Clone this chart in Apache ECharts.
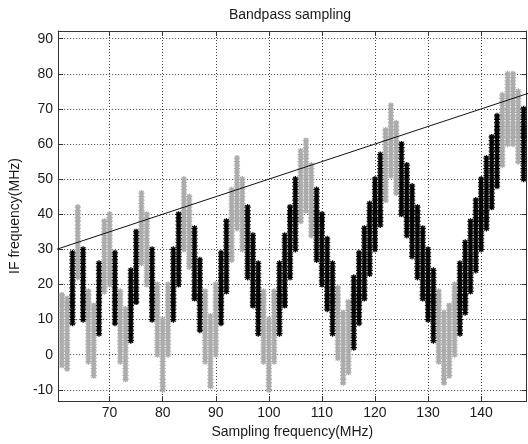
<!DOCTYPE html>
<html>
<head>
<meta charset="utf-8">
<script src="https://cdn.jsdelivr.net/npm/echarts@6/dist/echarts.min.js"></script>
<style>html,body{margin:0;padding:0;background:#fff}#c{width:528px;height:444px}</style>
</head>
<body>
<div id="c"></div>
<script>
// Valid IF bands (black): sampling frequency, lower and upper IF edge (MHz)
const validFs   = [63,65,68,71,74,75,78,82,83,86,87,91,92,96,97,98,102,103,104,105,109,110,111,112,116,117,118,119,120,121,125,126,127,128,129,130,131,136,137,138,139,140,141,142,143,148];
const validLow  = [9,10,6,9,4,15,10,10,20,16,7,9,18,22,14,6,6,14,22,30,27,20,13,6,2,9,16,23,30,37,40,34,28,22,16,10,4,6,12,18,24,30,36,42,48,50];
const validHigh = [29,30,26,29,24,35,30,30,40,36,27,29,38,42,34,26,26,34,42,50,47,40,33,26,22,29,36,43,50,57,60,54,48,42,36,30,24,26,32,38,44,50,56,62,68,70];

// Aliased / overlapping IF bands (gray)
const aliasFs   = [61,62,64,66,67,69,70,72,73,76,77,79,80,81,84,85,88,89,90,93,94,95,99,100,101,106,107,108,113,114,115,122,123,124,132,133,134,135,144,145,146,147];
const aliasLow  = [-3,-4,22,-2,-6,18,20,-2,-7,26,20,0,-10,0,30,25,-2,-9,0,27,36,30,-2,-10,-2,38,41,34,-1,-8,-5,44,51,46,-2,-8,-6,0,54,60,60,55];
const aliasHigh = [17,16,42,18,14,38,40,18,13,46,40,20,10,20,50,45,18,11,20,47,56,50,18,10,18,58,61,54,19,12,15,64,71,66,18,12,14,20,74,80,80,75];

// Nyquist line fs/2
const lineFs = [60, 149];
const lineIF = [30, 74.5];

// Axis ticks
const xTicks = [70, 80, 90, 100, 110, 120, 130, 140];
const yTicks = [-10, 0, 10, 20, 30, 40, 50, 60, 70, 80, 90];

const X_MIN = 60.3, X_MAX = 148.55, Y_MIN = -13.2, Y_MAX = 92.2;
const FONT = 'Liberation Sans, Arial, sans-serif';
const AXIS_COLOR = '#333';

function zip3(a, b, c) { return a.map((v, i) => [v, b[i], c[i]]); }

function columnRenderer(color) {
  return function (params, api) {
    const f = api.value(0), lo = api.value(1), hi = api.value(2);
    const r = 3.1, d2 = r * 0.72;
    let d = '';
    for (let v = lo; v <= hi; v += 1) {
      const p = api.coord([f, v]);
      const x = p[0], y = p[1];
      d += 'M' + (x - r) + ' ' + y + 'L' + (x + r) + ' ' + y +
           'M' + x + ' ' + (y - r) + 'L' + x + ' ' + (y + r) +
           'M' + (x - d2) + ' ' + (y - d2) + 'L' + (x + d2) + ' ' + (y + d2) +
           'M' + (x - d2) + ' ' + (y + d2) + 'L' + (x + d2) + ' ' + (y - d2);
    }
    return { type: 'path', shape: { pathData: d }, style: { stroke: color, fill: null, lineWidth: 1.3 } };
  };
}

const chart = echarts.init(document.getElementById('c'), null, { renderer: 'canvas' });

const tickStyle = { color: AXIS_COLOR, width: 1 };
const labelStyle = { color: '#1a1a1a', fontFamily: FONT, fontSize: 14 };

chart.setOption({
  animation: false,
  backgroundColor: '#fff',
  grid: { left: 57, top: 31, right: 1.5, bottom: 40.3, containLabel: false },
  graphic: [{
    type: 'text', x: 290, y: 15,
    style: { text: 'Bandpass sampling', fill: '#1a1a1a', font: '14px ' + FONT, textAlign: 'center', textVerticalAlign: 'middle' }
  }],
  xAxis: [{
    type: 'value', min: X_MIN, max: X_MAX, position: 'bottom',
    axisLine: { show: true, onZero: false, lineStyle: tickStyle },
    axisTick: { show: true, inside: true, length: 5, customValues: xTicks, lineStyle: tickStyle },
    axisLabel: Object.assign({ customValues: xTicks, margin: 5 }, labelStyle),
    splitLine: { show: true, lineStyle: { color: '#444', type: [1, 2], width: 1 } },
    name: 'Sampling frequency(MHz)', nameLocation: 'middle', nameGap: 24,
    nameTextStyle: labelStyle
  }, {
    type: 'value', min: X_MIN, max: X_MAX, position: 'top',
    axisLine: { show: true, onZero: false, lineStyle: tickStyle },
    axisTick: { show: true, inside: true, length: 5, customValues: xTicks, lineStyle: tickStyle },
    axisLabel: { show: false },
    splitLine: { show: false }
  }],
  yAxis: [{
    type: 'value', min: Y_MIN, max: Y_MAX, position: 'left',
    axisLine: { show: true, onZero: false, lineStyle: tickStyle },
    axisTick: { show: true, inside: true, length: 5, customValues: yTicks, lineStyle: tickStyle },
    axisLabel: Object.assign({ customValues: yTicks, margin: 5 }, labelStyle),
    splitLine: { show: true, lineStyle: { color: '#444', type: [1, 2], width: 1 } },
    name: 'IF frequency(MHz)', nameLocation: 'middle', nameGap: 33,
    nameTextStyle: labelStyle
  }, {
    type: 'value', min: Y_MIN, max: Y_MAX, position: 'right',
    axisLine: { show: true, onZero: false, lineStyle: tickStyle },
    axisTick: { show: true, inside: true, length: 5, customValues: yTicks, lineStyle: tickStyle },
    axisLabel: { show: false },
    splitLine: { show: false }
  }],
  series: [{
    type: 'custom', name: 'aliased', xAxisIndex: 0, yAxisIndex: 0,
    data: zip3(aliasFs, aliasLow, aliasHigh),
    renderItem: columnRenderer('#ababab'), z: 2
  }, {
    type: 'custom', name: 'valid', xAxisIndex: 0, yAxisIndex: 0,
    data: zip3(validFs, validLow, validHigh),
    renderItem: columnRenderer('#000'), z: 3
  }, {
    type: 'line', xAxisIndex: 0, yAxisIndex: 0,
    data: lineFs.map((f, i) => [f, lineIF[i]]),
    showSymbol: false, symbol: 'none', clip: true,
    lineStyle: { color: '#111', width: 1 }, z: 4
  }]
});
</script>
</body>
</html>
